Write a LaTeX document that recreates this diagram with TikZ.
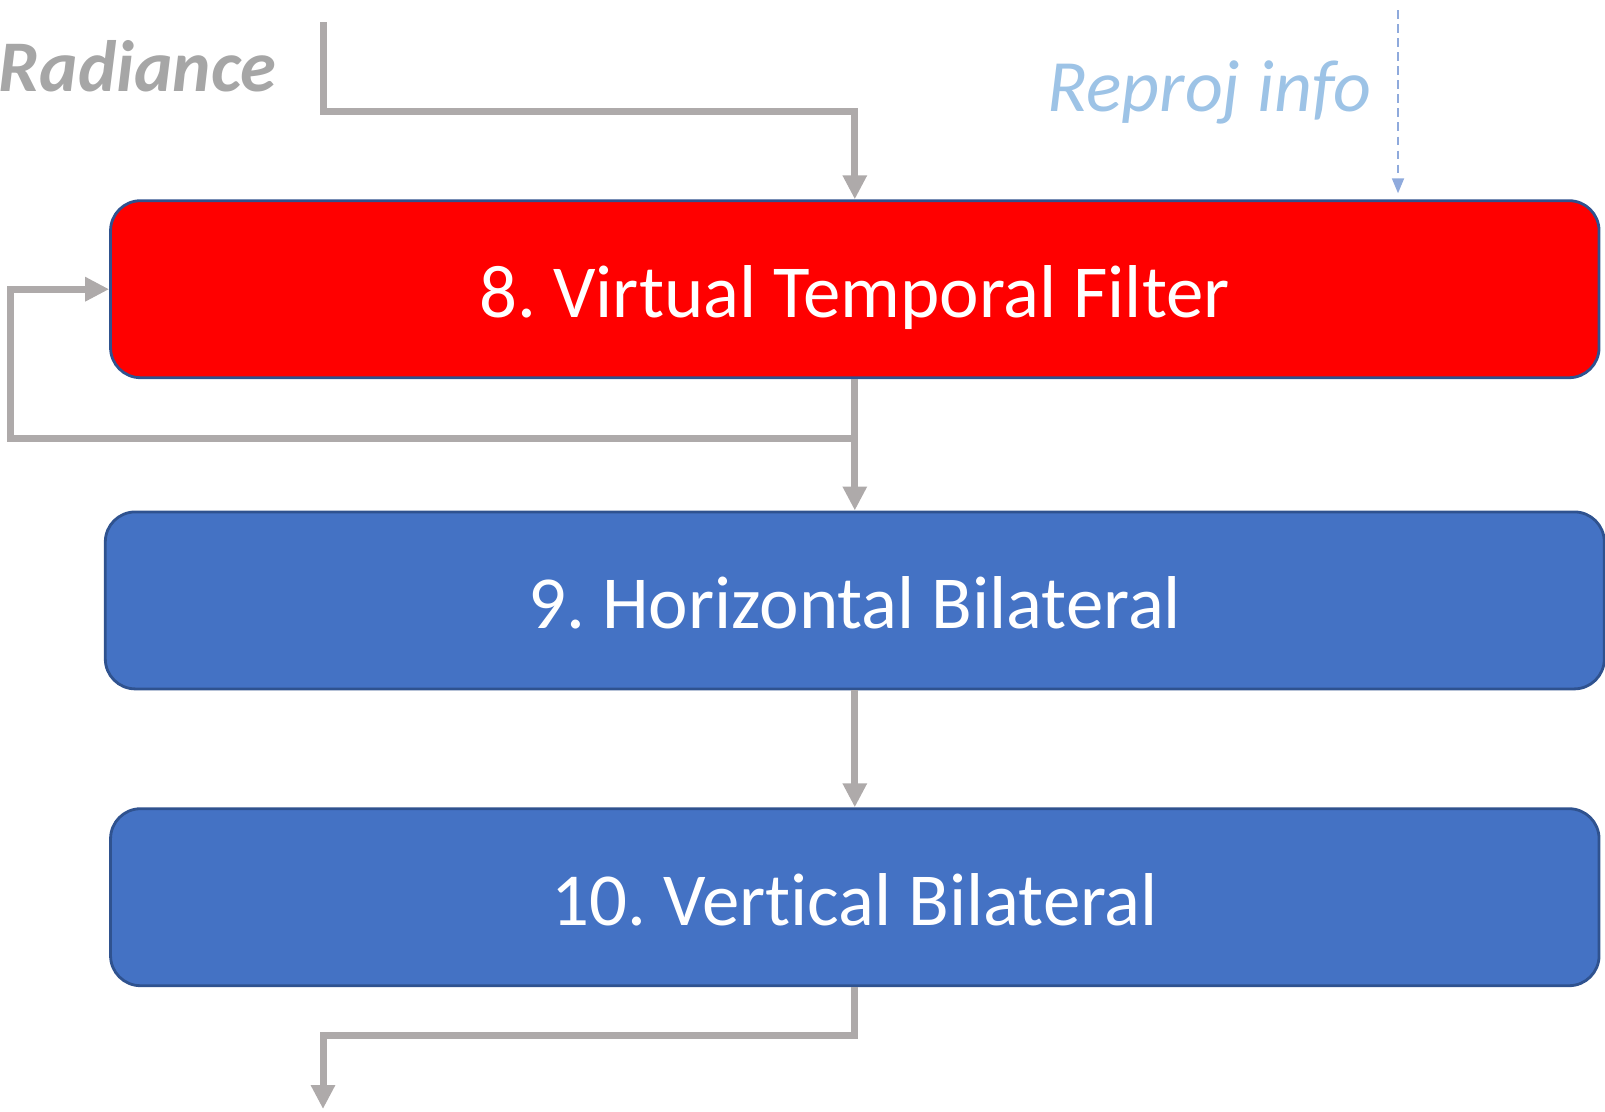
\documentclass[tikz,border=0pt]{standalone}
\usepackage{fontspec}
\setmainfont{Carlito}[Ligatures=NoCommon]
\usetikzlibrary{arrows.meta, positioning}

\definecolor{boxblue}{HTML}{4472C4}
\definecolor{edgeblue}{HTML}{2F528F}
\definecolor{linegray}{HTML}{AEAAAA}
\definecolor{txtgray}{HTML}{A6A6A6}
\definecolor{txtblue}{HTML}{9DC3E6}
\definecolor{dashblue}{HTML}{8FAADC}

\begin{document}
\frenchspacing
\begin{tikzpicture}[
    b/.style={rectangle, draw=edgeblue, line width=0.8pt, rounded corners=0.3cm, minimum height=1.77cm, text=white, font=\fontsize{21.3}{26}\selectfont, text height=16.2pt, text depth=0pt, align=center},
    lbl/.style={inner sep=0pt, anchor=base west, font=\fontsize{21}{25}\selectfont\itshape},
    a/.style={-{Triangle[length=0.24cm, width=0.23cm]}, linegray, line width=0.07cm},
    d/.style={-{Triangle[length=0.15cm, width=0.12cm]}, dashblue, line width=0.5pt, dash pattern=on 2.5pt off 1.5pt},
]
\useasboundingbox (0,0) rectangle (16.05,-11.11);

% Inputs
\node[lbl, txtgray, font=\fontsize{20.7}{25}\selectfont\bfseries\itshape] (rad) at (-0.02,-0.91) {Radiance};
\node[lbl, txtblue] (reproj) at (10.47,-1.11) {Reproj info};
\coordinate (radin) at (3.23,-0.22);
\coordinate (rpin) at (13.98,-0.10);
\coordinate (fb) at (0.10,-4.38);
\coordinate (out) at (3.23,-11.09);

% Filters
\node[b, fill=red, minimum width=14.885cm] (vtf) at (8.548,-2.892) {8. Virtual Temporal Filter};
\node[b, fill=boxblue, minimum width=14.99cm] (hbil) at (8.548,-6.004) {9. Horizontal Bilateral};
\node[b, fill=boxblue, minimum width=14.885cm] (vbil) at (8.548,-8.972) {10. Vertical Bilateral};

\coordinate (split) at (vtf.south |- fb);

% Arrows
\draw[a] (radin) -- ++(0,-0.89) -| (vtf.north);
\draw[d, shorten >=0.06cm] (rpin) -- (rpin |- vtf.north);
\draw[a] (vtf.south) -- (split) -- (hbil.north);
\draw[a] (split) -- (fb) |- (vtf.west);
\draw[a] (hbil.south) -- (vbil.north);
\draw[a] (vbil.south) -- ++(0,-0.48) -| (out);
\end{tikzpicture}
\end{document}
